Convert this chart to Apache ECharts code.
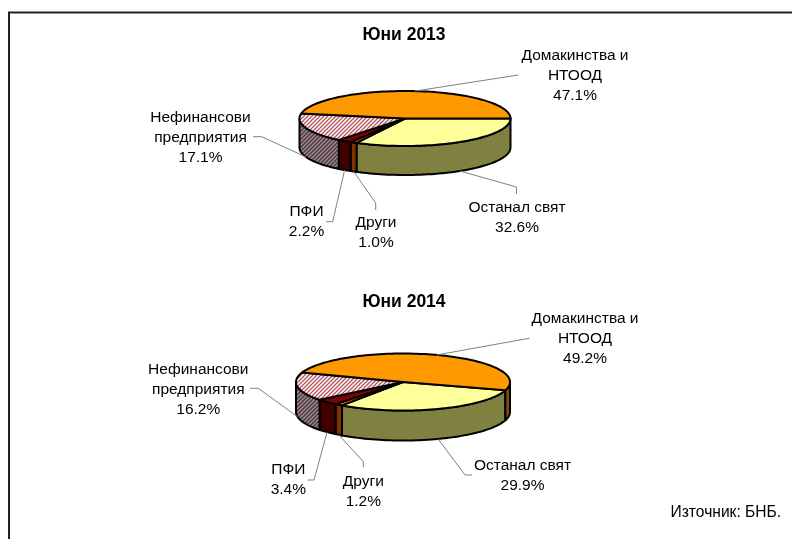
<!DOCTYPE html>
<html>
<head>
<meta charset="utf-8">
<title>Юни 2013 / Юни 2014</title>
<script src="https://cdn.jsdelivr.net/npm/echarts@6/dist/echarts.min.js"></script>
<style>
	html, body { margin: 0; padding: 0; background: #fff; }
	#chartDom { width: 792px; height: 539px; }
</style>
</head>
<body>
<div id="chartDom"></div>
<script>
// slices go clockwise, in the order of the original chart
var categories = ['Останал свят', 'Други', 'ПФИ', 'Нефинансови\nпредприятия', 'Домакинства и\nНТООД'];
var values2013 = [32.6, 1.0, 2.2, 17.1, 47.1];
var values2014 = [29.9, 1.2, 3.4, 16.2, 49.2];
var titles = ['Юни 2013', 'Юни 2014'];
var sourceText = 'Източник: БНБ.';

var FONT = '"Liberation Sans", Arial, sans-serif';

function hatch(bg, fg) {
	var c = document.createElement('canvas');
	c.width = 4;
	c.height = 4;
	var ctx = c.getContext('2d');
	ctx.fillStyle = bg;
	ctx.fillRect(0, 0, 4, 4);
	ctx.strokeStyle = fg;
	ctx.lineWidth = 1.3;
	ctx.beginPath();
	ctx.moveTo(-1, 1);
	ctx.lineTo(1, -1);
	ctx.moveTo(-1, 5);
	ctx.lineTo(5, -1);
	ctx.moveTo(3, 5);
	ctx.lineTo(5, 3);
	ctx.stroke();
	return { image: c, repeat: 'repeat' };
}

var topColors = ['#FFFF99', '#FF6600', '#800000', hatch('#FFFFFF', '#B5525A'), '#FF9900'];
var sideColors = ['#808040', '#803300', '#400000', hatch('#8F8F8F', '#5A2F3C'), '#804C00'];

// geometry of each pie, and where leader lines and labels go (one entry per slice)
var pies = [{
	cx: 405, cy: 118.5, a: 105.5, b: 27.5, depth: 29, start: 0,
	leaders: [[[516.5, 187], [516.5, 194]], [[375.7, 203], [375.7, 210]], [[332.7, 221.7], [326, 221.7]], [[261.7, 136.7], [253, 136.7]], [[518.3, 75]]],
	labels: [[517, 217.5], [376, 233], [306.5, 221.7], [200.5, 138], [575, 76]]
}, {
	cx: 403, cy: 382, a: 107, b: 28.5, depth: 30, start: 17,
	leaders: [[[465, 475], [472, 475]], [[363.3, 461.7], [363.3, 467.3]], [[314, 480], [307.7, 480]], [[258.3, 388.3], [250, 388.3]], [[529.3, 338.3]]],
	labels: [[522.5, 476], [363.3, 491.5], [288.3, 479.3], [198.3, 389.7], [585, 339]]
}];

function rimPoint(pie, deg, drop) {
	var r = deg * Math.PI / 180;
	return [pie.cx + pie.a * Math.cos(r), pie.cy + pie.b * Math.sin(r) + drop];
}

function arcPoints(pie, from, to, drop) {
	var pts = [];
	var n = Math.max(2, Math.ceil(Math.abs(to - from) / 2));
	for (var i = 0; i <= n; i++) {
		pts.push(rimPoint(pie, from + (to - from) * i / n, drop));
	}
	return pts;
}

function makeRenderItem(pie, values) {
	var total = values.reduce(function(s, v) { return s + v; }, 0);
	return function(params, api) {
		var idx = params.dataIndex;
		var before = 0;
		for (var i = 0; i < idx; i++) before += values[i];
		var a0 = pie.start + before / total * 360;
		var a1 = a0 + api.value(0) / total * 360;
		var children = [];

		// wall: only the part of the rim facing the viewer
		[[0, 180], [360, 540]].forEach(function(win) {
			var from = Math.max(a0, win[0]);
			var to = Math.min(a1, win[1]);
			if (to > from) {
				var wall = arcPoints(pie, from, to, 0).concat(arcPoints(pie, to, from, pie.depth));
				children.push({
					type: 'polygon',
					z2: 1,
					shape: { points: wall },
					style: { fill: sideColors[idx], stroke: '#000', lineWidth: 2, lineJoin: 'round' }
				});
			}
		});

		// top face
		children.push({
			type: 'polygon',
			z2: 2,
			shape: { points: [[pie.cx, pie.cy]].concat(arcPoints(pie, a0, a1, 0)) },
			style: { fill: topColors[idx], stroke: '#000', lineWidth: 2, lineJoin: 'round' }
		});

		// leader line starts on the outside of the slice at its middle angle
		var mid = (a0 + a1) / 2;
		var front = Math.sin(mid * Math.PI / 180) > 0;
		children.push({
			type: 'polyline',
			z2: 3,
			shape: { points: [rimPoint(pie, mid, front ? pie.depth : 0)].concat(pie.leaders[idx]) },
			style: { fill: null, stroke: '#808080', lineWidth: 1 }
		});

		children.push({
			type: 'text',
			z2: 4,
			x: pie.labels[idx][0],
			y: pie.labels[idx][1],
			style: {
				text: categories[idx] + '\n' + api.value(0).toFixed(1) + '%',
				font: '15.5px ' + FONT,
				lineHeight: 20,
				fill: '#000',
				align: 'center',
				verticalAlign: 'middle'
			}
		});
		return { type: 'group', children: children };
	};
}

var myChart = echarts.init(document.getElementById('chartDom'));
var option = {
	backgroundColor: '#fff',
	animation: false,
	title: titles.map(function(t, i) {
		return {
			text: t,
			left: 404,
			top: i == 0 ? 26 : 293,
			textAlign: 'center',
			padding: 0,
			textStyle: { fontFamily: FONT, fontSize: 17.5, fontWeight: 'bold', color: '#000' }
		};
	}),
	graphic: [{
		type: 'polyline',
		shape: { points: [[9, 539], [9, 12.5], [792, 12.5]] },
		style: { fill: null, stroke: '#222', lineWidth: 2 }
	}, {
		type: 'text',
		x: 670.5,
		y: 505,
		style: { text: sourceText, font: '15.6px ' + FONT, fill: '#000' }
	}],
	series: [{
		type: 'custom',
		coordinateSystem: 'none',
		renderItem: makeRenderItem(pies[0], values2013),
		data: values2013
	}, {
		type: 'custom',
		coordinateSystem: 'none',
		renderItem: makeRenderItem(pies[1], values2014),
		data: values2014
	}]
};
myChart.setOption(option, true);
</script>
</body>
</html>
